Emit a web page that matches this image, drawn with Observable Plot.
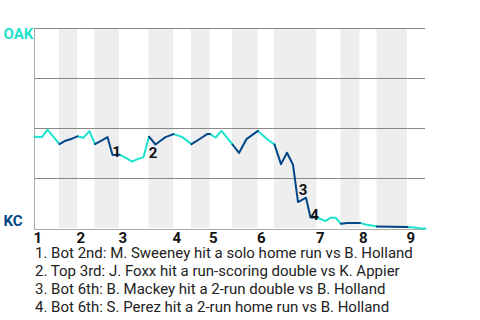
<!DOCTYPE html>
<html>
<head>
<meta charset="utf-8">
<script src="https://cdn.jsdelivr.net/npm/d3@7"></script>
<script src="https://cdn.jsdelivr.net/npm/@observablehq/plot@0.6"></script>
<style>
  body { margin: 0; background: #fff; font-family: Roboto, "Noto Sans", sans-serif; }
  #chart svg { display: block; }
  #caption { padding-left: 35px; margin-top: -4px; font-size: 15px; line-height: 18px; color: #222; font-family: Roboto, sans-serif; }
</style>
</head>
<body>
<div id="chart"></div>
<div id="caption"></div>
<script>
// Play position (play units) and OAK win probability
const playX = [0, 1.5, 2.6, 5.0, 6.2, 7.5, 8.6, 9.8, 11.0, 12.1, 13.4, 14.6, 15.6,
  17.0, 18.2, 19.5, 20.6, 21.8, 22.9, 24.2, 25.2, 26.2, 27.8, 29.5, 31.4, 33.2, 34.5,
  35.1, 36.2, 37.4, 39.6, 40.9, 42.4, 43.5, 44.7, 46.5, 48.0, 49.3, 50.5, 51.7, 52.7,
  54.3, 55.2, 56.5, 57.6, 58.2, 59.2, 60.2, 61.3, 62.5, 65.1, 66.2, 68.5, 74.6, 75.9, 77.2, 78.2];
const winProb = [0.459, 0.457, 0.494, 0.422, 0.439, 0.449, 0.461, 0.454, 0.487, 0.422, 0.439, 0.457, 0.367,
  0.369, 0.354, 0.334, 0.347, 0.357, 0.459, 0.420, 0.439, 0.457, 0.472, 0.458, 0.422, 0.450, 0.472,
  0.472, 0.455, 0.488, 0.420, 0.378, 0.447, 0.467, 0.488, 0.447, 0.420, 0.322, 0.379, 0.319, 0.132,
  0.154, 0.055, 0.055, 0.044, 0.037, 0.054, 0.054, 0.024, 0.028, 0.028, 0.020, 0.010, 0.008, 0.005, 0.0, 0.0];

// Half-inning starts (top, bottom alternating)
const halfStarts = [0, 5.0, 8.6, 12.1, 17.0, 22.9, 27.8, 31.4, 35.1, 39.6, 44.7, 48.0, 56.5, 61.3, 65.1, 68.5, 74.6];
const playEnd = 78.2;
const inningLabels = ["1", "2", "3", "4", "5", "6", "7", "8", "9"];

// Annotations
const noteLabels = ["1", "2", "3", "4"];
const noteX = [16.4, 23.7, 53.7, 56.0];
const noteY = [0.383, 0.375, 0.192, 0.068];
const captions = [
  "1. Bot 2nd: M. Sweeney hit a solo home run vs B. Holland",
  "2. Top 3rd: J. Foxx hit a run-scoring double vs K. Appier",
  "3. Bot 6th: B. Mackey hit a 2-run double vs B. Holland",
  "4. Bot 6th: S. Perez hit a 2-run home run vs B. Holland"
];

const OAK = "#1ee3cc";
const KC = "#004687";

const points = playX.map((x, i) => ({x, wp: winProb[i]}));
const rows = [];
halfStarts.forEach((s, h) => {
  const e = h + 1 < halfStarts.length ? halfStarts[h + 1] : playEnd;
  points.filter(p => p.x >= s - 1e-9 && p.x <= e + 1e-9)
    .forEach(p => rows.push({x: p.x, wp: p.wp, half: h, top: h % 2 === 0}));
});
const bands = halfStarts.map((s, h) => ({x1: s, x2: h + 1 < halfStarts.length ? halfStarts[h + 1] : playEnd, bottom: h % 2 === 1}))
  .filter(d => d.bottom);
const innings = inningLabels.map((t, i) => ({t, x: halfStarts[i * 2]}));
const notes = noteLabels.map((t, i) => ({t, x: noteX[i], y: noteY[i]}));

const chart = Plot.plot({
  width: 480,
  height: 248,
  marginLeft: 34,
  marginRight: 55,
  marginTop: 28,
  marginBottom: 20,
  style: {fontFamily: "Roboto, sans-serif", background: "white"},
  x: {domain: [0, playEnd], axis: null},
  y: {domain: [0, 1], axis: null},
  marks: [
    Plot.rectX(bands, {x1: "x1", x2: "x2", y1: 0, y2: 1, fill: "#eeeeee"}),
    Plot.ruleY([0.25, 0.5, 0.75, 1], {stroke: "#888", strokeWidth: 1.2}),
    Plot.ruleY([0], {stroke: "#aaa", dy: 1}),
    Plot.ruleX([0], {stroke: "#aaa", y1: 0, y2: 1, dy: 1}),
    Plot.line(rows.filter(d => d.top), {x: "x", y: "wp", z: "half", stroke: OAK, strokeWidth: 2}),
    Plot.line(rows.filter(d => !d.top), {x: "x", y: "wp", z: "half", stroke: KC, strokeWidth: 2}),
    Plot.text(notes, {x: "x", y: "y", text: "t", fontSize: 15, fontWeight: "bold", fill: "#111"}),
    Plot.text(innings, {x: "x", text: "t", frameAnchor: "bottom", lineAnchor: "top", textAnchor: "start", dy: 4, dx: -1, fontSize: 15, fontWeight: "bold", fill: "#111"}),
    Plot.text(["OAK"], {frameAnchor: "top-left", textAnchor: "start", lineAnchor: "top", dx: -31, fontSize: 15, fontWeight: "bold", fill: OAK}),
    Plot.text(["KC"], {frameAnchor: "bottom-left", textAnchor: "start", lineAnchor: "bottom", dx: -31, dy: -3, fontSize: 15, fontWeight: "bold", fill: KC})
  ]
});
document.getElementById("chart").appendChild(chart);
const cap = document.getElementById("caption");
captions.forEach(c => { const d = document.createElement("div"); d.textContent = c; cap.appendChild(d); });
</script>
</body>
</html>
